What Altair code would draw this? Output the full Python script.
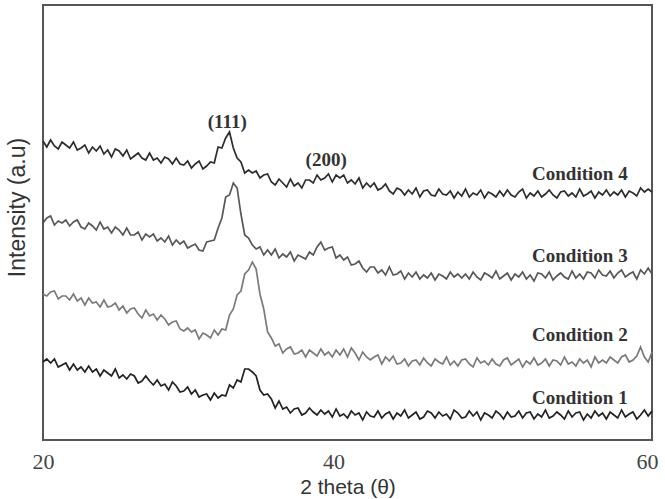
import altair as alt
import pandas as pd

# 2-theta grid (degrees), 0.25 deg steps from 20 to 60
theta = [round(20 + 0.25 * i, 2) for i in range(161)]

cond1 = [78, 81, 77, 81, 73, 75, 77, 70, 76, 70, 73, 68, 74, 68, 71, 64, 70, 67, 64, 71,
         62, 65, 61, 66, 64, 57, 59, 64, 59, 55, 60, 54, 56, 50, 58, 54, 48, 49, 53, 46,
         50, 43, 45, 46, 40, 47, 42, 45, 44, 55, 52, 60, 58, 71, 71, 68, 64, 50, 45, 46,
         41, 32, 39, 31, 33, 27, 31, 32, 25, 27, 32, 28, 25, 30, 26, 29, 23, 31, 24, 26,
         22, 29, 25, 27, 20, 28, 24, 23, 29, 22, 26, 28, 21, 27, 24, 30, 22, 25, 28, 21,
         23, 29, 27, 22, 28, 24, 26, 21, 30, 27, 22, 23, 29, 24, 28, 20, 27, 25, 22, 29,
         26, 21, 28, 23, 24, 29, 22, 27, 28, 21, 26, 23, 30, 22, 24, 28, 25, 21, 29, 23,
         27, 28, 20, 26, 22, 29, 24, 27, 21, 28, 25, 22, 30, 23, 26, 28, 21, 25, 30, 24,
         29]

cond2 = [146, 144, 148, 149, 141, 144, 144, 140, 146, 139, 142, 135, 142, 137, 138, 133, 140, 133, 134, 137,
         130, 134, 127, 131, 132, 126, 122, 130, 124, 126, 120, 125, 121, 115, 118, 119, 111, 109, 112, 108,
         110, 101, 107, 105, 102, 110, 105, 111, 110, 125, 131, 145, 149, 166, 170, 178, 171, 146, 131, 108,
         102, 94, 96, 87, 91, 93, 86, 87, 90, 83, 90, 87, 84, 91, 85, 88, 83, 90, 85, 91,
         83, 92, 87, 80, 88, 83, 80, 83, 85, 76, 83, 79, 84, 76, 77, 81, 74, 79, 80, 75,
         82, 77, 74, 81, 78, 76, 83, 75, 79, 74, 80, 81, 76, 73, 82, 77, 79, 75, 81, 76,
         74, 80, 82, 75, 78, 81, 73, 79, 76, 82, 75, 77, 81, 74, 80, 79, 75, 83, 76, 78,
         74, 81, 77, 80, 73, 83, 77, 80, 77, 83, 80, 77, 83, 85, 78, 80, 84, 93, 83, 78,
         88]

cond3 = [217, 222, 224, 215, 219, 217, 220, 214, 218, 220, 213, 211, 217, 214, 210, 218, 211, 213, 207, 213,
         210, 205, 212, 205, 205, 208, 200, 206, 203, 206, 199, 202, 198, 204, 195, 200, 196, 199, 192, 194,
         196, 190, 189, 198, 199, 200, 212, 222, 243, 245, 257, 252, 226, 205, 202, 195, 191, 193, 185, 190,
         185, 191, 182, 186, 183, 188, 179, 185, 183, 181, 188, 185, 193, 198, 190, 192, 193, 182, 185, 180,
         183, 175, 176, 179, 172, 168, 173, 173, 167, 170, 165, 173, 165, 166, 169, 161, 167, 163, 168, 161,
         165, 162, 167, 160, 166, 164, 161, 168, 163, 166, 162, 166, 161, 168, 163, 160, 167, 165, 162, 169,
         161, 164, 167, 160, 166, 163, 168, 161, 165, 159, 167, 166, 162, 168, 160, 164, 167, 163, 161, 169,
         162, 166, 161, 168, 167, 162, 170, 165, 164, 169, 162, 167, 170, 163, 166, 168, 161, 170, 166, 172,
         166]

cond4 = [299, 293, 300, 294, 291, 298, 295, 292, 298, 290, 292, 295, 287, 293, 289, 294, 286, 290, 283, 291,
         289, 284, 290, 281, 284, 287, 282, 280, 287, 280, 282, 277, 283, 281, 276, 282, 276, 275, 279, 272,
         276, 279, 271, 274, 278, 277, 293, 292, 302, 308, 292, 282, 278, 267, 270, 267, 269, 262, 265, 266,
         258, 255, 261, 257, 253, 261, 254, 257, 252, 260, 260, 257, 265, 260, 262, 266, 258, 265, 262, 265,
         257, 260, 256, 262, 252, 257, 253, 257, 250, 252, 256, 249, 246, 252, 250, 245, 250, 246, 252, 243,
         249, 250, 245, 244, 251, 246, 245, 249, 242, 248, 244, 251, 243, 247, 245, 250, 242, 248, 246, 243,
         249, 244, 250, 245, 243, 248, 251, 242, 247, 244, 249, 243, 246, 250, 245, 242, 248, 249, 244, 247,
         243, 251, 244, 246, 249, 242, 248, 245, 250, 244, 248, 245, 250, 243, 249, 247, 244, 252, 248, 251,
         248]

series_names = ["Condition 1", "Condition 2", "Condition 3", "Condition 4"]
series_colors = ["#222222", "#7a7a7a", "#575757", "#2c2c2c"]

label_theta = [58.4, 58.4, 58.4, 58.4]
label_intensity = [42, 105, 184, 266]

peak_labels = ["(111)", "(200)"]
peak_theta = [32.1, 38.6]
peak_intensity = [318, 280]

x_ticks = [20, 40, 60]

rows = []
for name, vals in zip(series_names, [cond1, cond2, cond3, cond4]):
    for t, v in zip(theta, vals):
        rows.append({"theta": t, "intensity": v, "series": name})
df = pd.DataFrame(rows)

labels_df = pd.DataFrame({"theta": label_theta, "intensity": label_intensity, "text": series_names})
peaks_df = pd.DataFrame({"theta": peak_theta, "intensity": peak_intensity, "text": peak_labels})

x_enc = alt.X(
    "theta:Q",
    scale=alt.Scale(domain=[20, 60], nice=False, zero=False),
    axis=alt.Axis(
        values=x_ticks,
        title="2 theta (θ)",
        titleFont="Liberation Sans",
        titleFontSize=21,
        titleFontWeight="normal",
        titleColor="#333333",
        titleBaseline="alphabetic",
        titleY=53,
        labelFont="Liberation Serif",
        labelFontSize=22,
        labelColor="#444444",
        labelPadding=11,
        labelOffset={"condition": [{"test": "datum.value == 40", "value": -14},
                                   {"test": "datum.value == 60", "value": -5}],
                     "value": 0},
        labelFlush=False,
        ticks=False,
        domain=False,
        grid=False,
    ),
)
y_enc = alt.Y(
    "intensity:Q",
    scale=alt.Scale(domain=[0, 435], nice=False, zero=False),
    axis=alt.Axis(
        title="Intensity (a.u)",
        titleFont="Liberation Sans",
        titleFontSize=23,
        titleFontWeight="normal",
        titleColor="#333333",
        titleAngle=270,
        titleBaseline="alphabetic",
        titleAlign="center",
        titleX=-19,
        titleY=202,
        labels=False,
        ticks=False,
        domain=False,
        grid=False,
    ),
)

lines = alt.Chart(df).mark_line(strokeWidth=1.7, strokeJoin="miter").encode(
    x=x_enc,
    y=y_enc,
    color=alt.Color("series:N", scale=alt.Scale(domain=series_names, range=series_colors), legend=None),
)

cond_text = alt.Chart(labels_df).mark_text(
    align="right", baseline="middle", font="Liberation Serif", fontWeight="bold",
    fontSize=19, color="#333333"
).encode(x=x_enc, y=y_enc, text="text:N")

peak_text = alt.Chart(peaks_df).mark_text(
    align="center", baseline="middle", font="Liberation Serif", fontWeight="bold",
    fontSize=19, color="#333333"
).encode(x=x_enc, y=y_enc, text="text:N")

chart = alt.layer(lines, cond_text, peak_text).properties(
    width=609,
    height=435,
    autosize=alt.AutoSizeParams(type="none"),
    padding={"left": 43, "top": 5, "right": 13, "bottom": 59},
    background="white",
).configure_view(stroke="#555555", strokeWidth=2)

chart.save("out.html", embed_options={"renderer": "svg", "actions": False})
